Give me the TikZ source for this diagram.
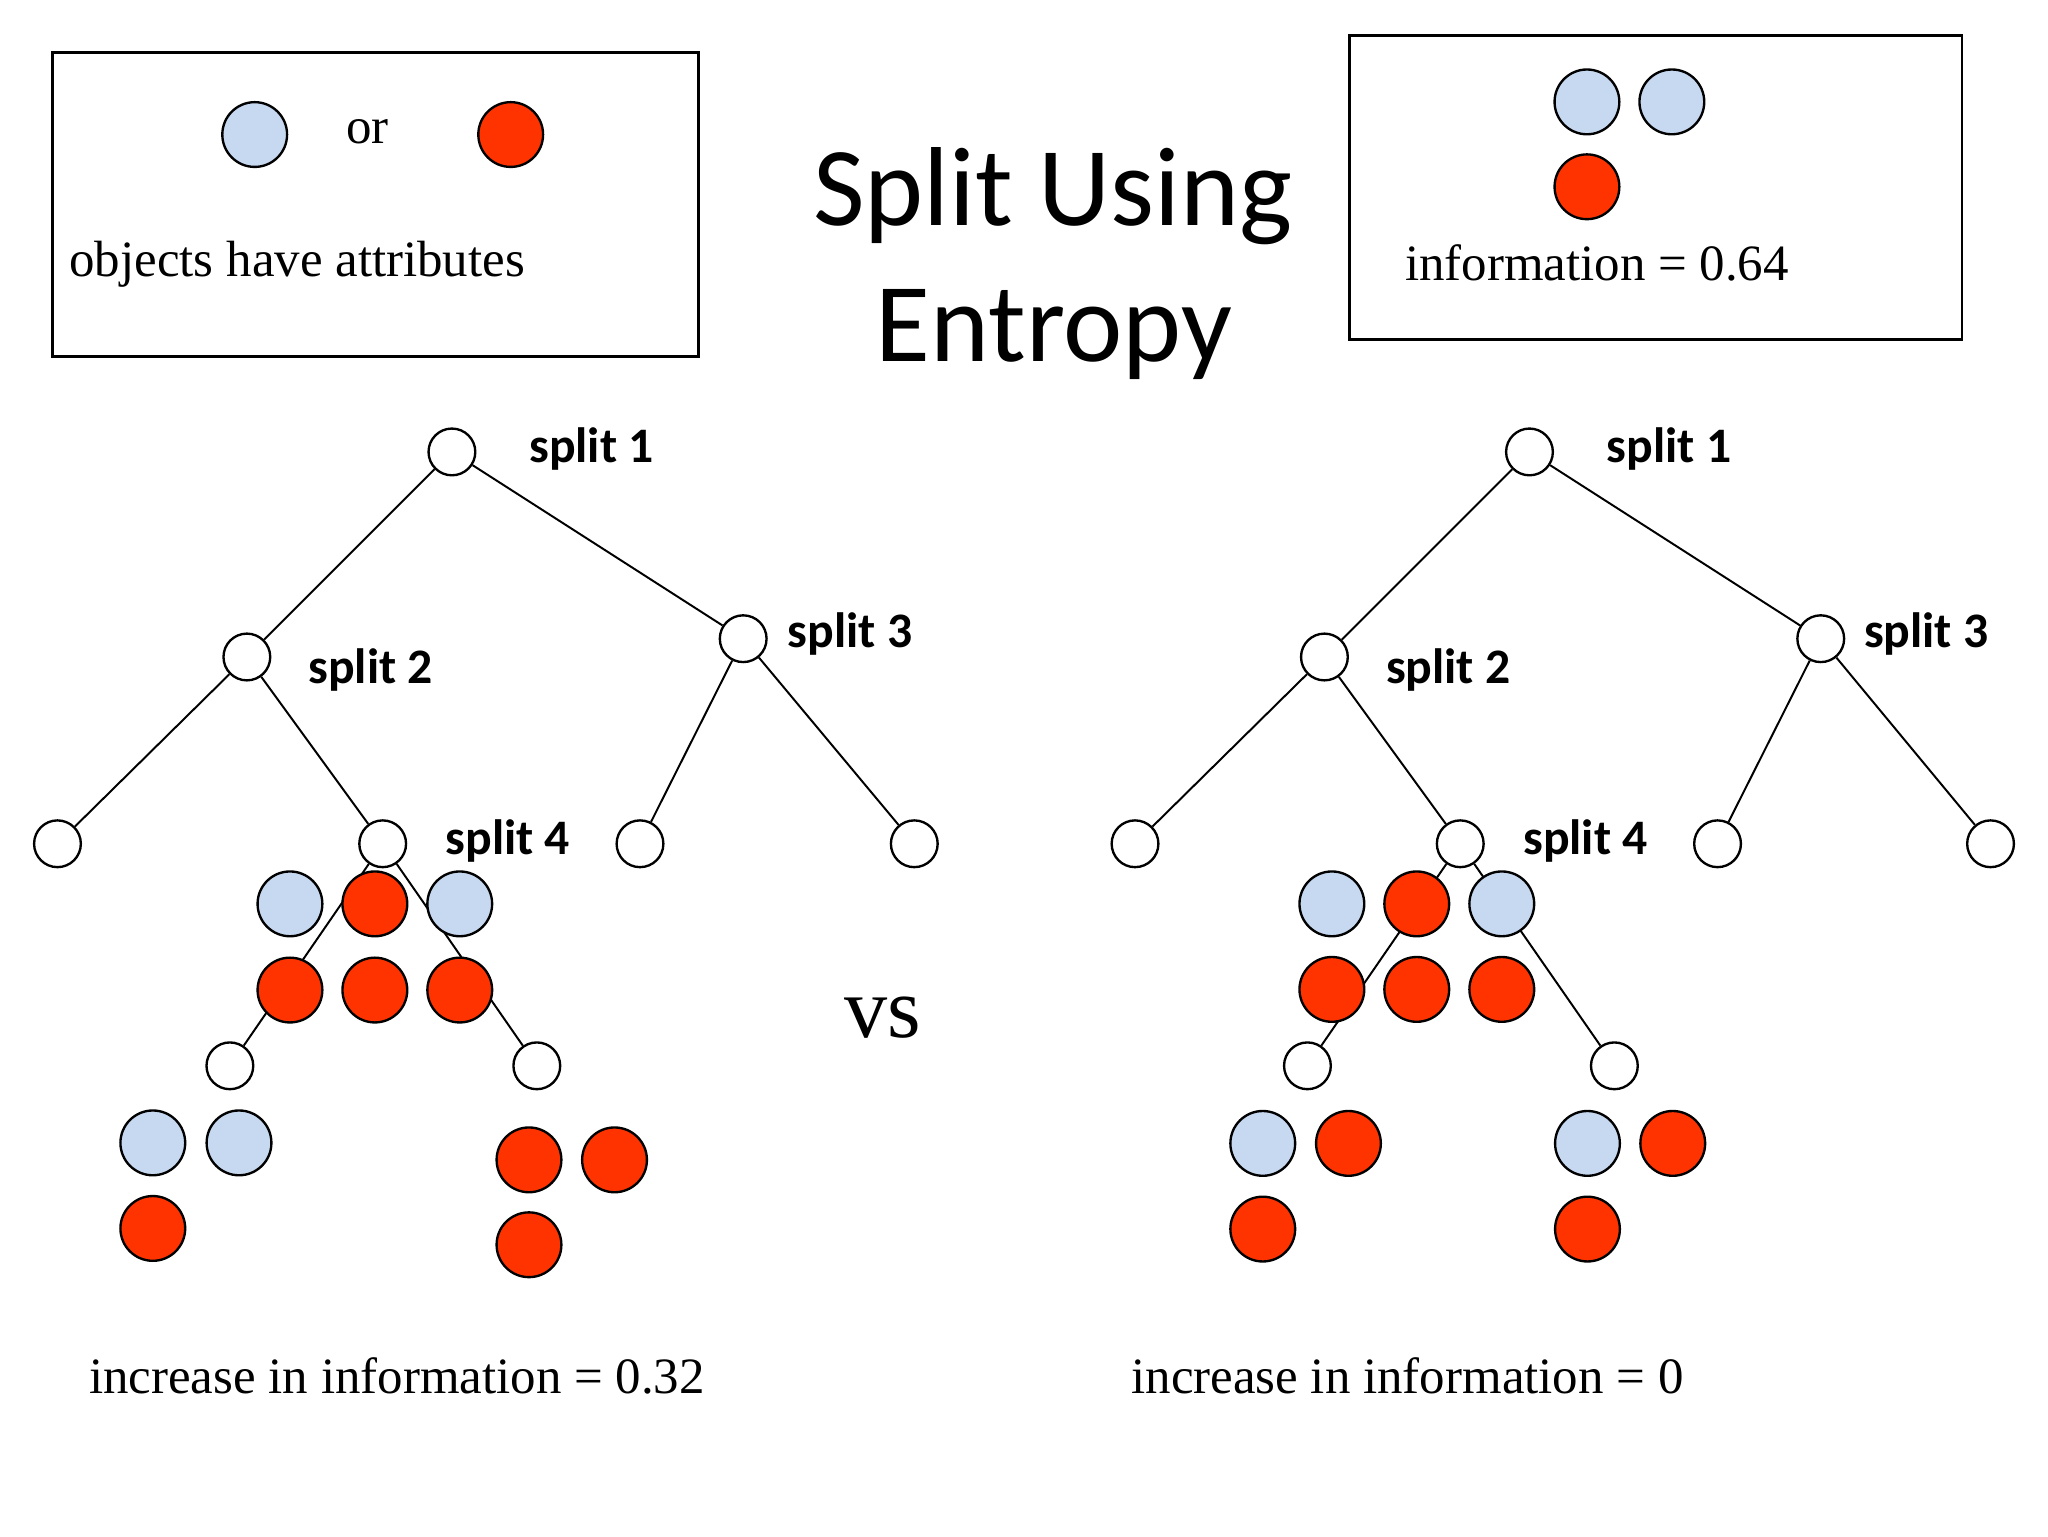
\documentclass[tikz,border=0pt]{standalone}
\usepackage{fontspec}
\setmainfont{Liberation Serif}
\newfontfamily\calibri{Carlito}
\pgfdeclarelayer{background}
\pgfdeclarelayer{paper}
\pgfsetlayers{paper,background,main}
\definecolor{ballblue}{HTML}{C6D9F1}
\definecolor{ballred}{HTML}{FF3300}
\tikzset{
  wnode/.style={circle, draw=black, line width=1.8pt, fill=white, minimum size=35.8pt, inner sep=0pt},
  ball/.style={circle, draw=black, line width=1.8pt, minimum size=49.6pt, inner sep=0pt},
  bball/.style={ball, fill=ballblue},
  rball/.style={ball, fill=ballred},
  edge/.style={line width=1.5pt, black},
  frame/.style={line width=2pt, black},
  lbl/.style={font=\calibri\bfseries\fontsize{38}{44}\selectfont, anchor=base west, inner sep=0pt},
  txt/.style={font=\fontsize{39}{46}\selectfont, anchor=base west, inner sep=0pt},
  ttl/.style={font=\calibri\fontsize{86}{100}\selectfont, anchor=base, inner sep=0pt}
}
\begin{document}
\begin{tikzpicture}[x=1pt, y=-1pt]
\useasboundingbox (0,0) rectangle (1568,1176);
\begin{pgfonlayer}{paper}
\fill[white] (0,0) rectangle (1568,1176);
\end{pgfonlayer}

% top boxes
\draw[frame] (40,40) rectangle (535,273);
\node[bball] (lgb) at (195,103) {};
\node[txt] (lgor) at (265,110) {or};
\node[rball] (lgr) at (391,103) {};
\node[txt] (lgtxt) at (53,212) {objects have attributes};

\draw[frame] (1033,27) rectangle (1502,260);
\node[bball] (ib1) at (1215,78) {};
\node[bball] (ib2) at (1280,78) {};
\node[rball] (ir1) at (1215,143) {};
\node[txt] (itxt) at (1075.5,215) {information = 0.64};

% title
\node[ttl] (t1) at (806,173) {Split Using};
\node[ttl] (t2) at (807,277) {Entropy};

% left tree
\node[wnode] (a1) at (346,346) {};
\node[wnode] (a2) at (189,503) {};
\node[wnode] (a3) at (569,489) {};
\node[wnode] (a4) at (44,646) {};
\node[wnode] (a5) at (293,646) {};
\node[wnode] (a6) at (490,646) {};
\node[wnode] (a7) at (700,646) {};
\node[wnode] (a8) at (176,816) {};
\node[wnode] (a9) at (411,816) {};
\node[lbl] (as1) at (405,354) {split 1};
\node[lbl] (as2) at (236,523) {split 2};
\node[lbl] (as3) at (603,496) {split 3};
\node[lbl] (as4) at (341,654) {split 4};

\node[bball] (ac1) at (222,692) {};
\node[rball] (ac2) at (287,692) {};
\node[bball] (ac3) at (352,692) {};
\node[rball] (ac4) at (222,758) {};
\node[rball] (ac5) at (287,758) {};
\node[rball] (ac6) at (352,758) {};

\node[bball] (ad1) at (117,875) {};
\node[bball] (ad2) at (183,875) {};
\node[rball] (ad3) at (117,940.5) {};
\node[rball] (ae1) at (405,888) {};
\node[rball] (ae2) at (470.5,888) {};
\node[rball] (ae3) at (405,953) {};

\begin{pgfonlayer}{background}
\draw[edge] (a1) -- (a2);
\draw[edge] (a1) -- (a3);
\draw[edge] (a2) -- (a4);
\draw[edge] (a2) -- (a5);
\draw[edge] (a3) -- (a6);
\draw[edge] (a3) -- (a7);
\draw[edge] (a5) -- (a8);
\draw[edge] (a5) -- (a9);
\end{pgfonlayer}

% right tree
\node[wnode] (b1) at (1171,346) {};
\node[wnode] (b2) at (1014,503) {};
\node[wnode] (b3) at (1394,489) {};
\node[wnode] (b4) at (869,646) {};
\node[wnode] (b5) at (1118,646) {};
\node[wnode] (b6) at (1315,646) {};
\node[wnode] (b7) at (1524,646) {};
\node[wnode] (b8) at (1001,816) {};
\node[wnode] (b9) at (1236,816) {};
\node[lbl] (bs1) at (1230,354) {split 1};
\node[lbl] (bs2) at (1061,523) {split 2};
\node[lbl] (bs3) at (1427,496) {split 3};
\node[lbl] (bs4) at (1166,654) {split 4};

\node[bball] (bc1) at (1019.7,692) {};
\node[rball] (bc2) at (1084.7,692) {};
\node[bball] (bc3) at (1149.8,692) {};
\node[rball] (bc4) at (1019.7,757.5) {};
\node[rball] (bc5) at (1084.7,757.5) {};
\node[rball] (bc6) at (1149.8,757.5) {};

\node[bball] (bd1) at (966.8,875.4) {};
\node[rball] (bd2) at (1032.4,875.4) {};
\node[rball] (bd3) at (966.8,941) {};
\node[bball] (be1) at (1215.4,875.4) {};
\node[rball] (be2) at (1280.7,875.4) {};
\node[rball] (be3) at (1215.4,941) {};

\begin{pgfonlayer}{background}
\draw[edge] (b1) -- (b2);
\draw[edge] (b1) -- (b3);
\draw[edge] (b2) -- (b4);
\draw[edge] (b2) -- (b5);
\draw[edge] (b3) -- (b6);
\draw[edge] (b3) -- (b7);
\draw[edge] (b5) -- (b8);
\draw[edge] (b5) -- (b9);
\end{pgfonlayer}

% vs and results
\node[font=\fontsize{66}{76}\selectfont, anchor=base west, inner sep=0pt] (vs) at (646,794) {vs};
\node[txt] (res1) at (68,1067) {increase in information = 0.32};
\node[txt] (res2) at (866,1067) {increase in information = 0};
\end{tikzpicture}
\end{document}
